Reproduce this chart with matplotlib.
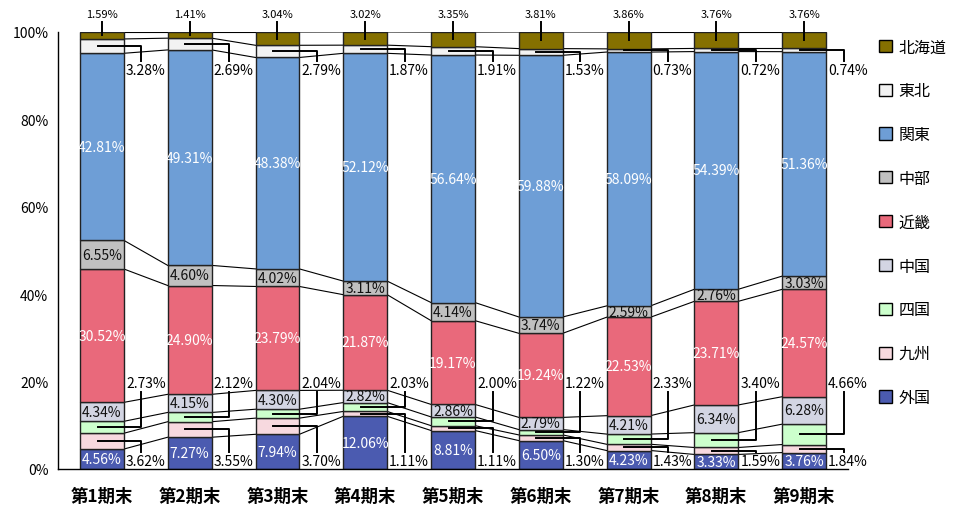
import matplotlib
matplotlib.use("Agg")
import matplotlib.pyplot as plt
import numpy as np
from matplotlib.patches import Patch

plt.rcParams['font.family'] = ['Noto Sans CJK JP', 'DejaVu Sans']

periods = ['第1期末', '第2期末', '第3期末', '第4期末', '第5期末', '第6期末', '第7期末', '第8期末', '第9期末']
regions = ['外国', '九州', '四国', '中国', '近畿', '中部', '関東', '東北', '北海道']

gaikoku  = [4.56, 7.27, 7.94, 12.06, 8.81, 6.50, 4.23, 3.33, 3.76]
kyushu   = [3.62, 3.55, 3.70, 1.11, 1.11, 1.30, 1.43, 1.59, 1.84]
shikoku  = [2.73, 2.12, 2.04, 2.03, 2.00, 1.22, 2.33, 3.40, 4.66]
chugoku  = [4.34, 4.15, 4.30, 2.82, 2.86, 2.79, 4.21, 6.34, 6.28]
kinki    = [30.52, 24.90, 23.79, 21.87, 19.17, 19.24, 22.53, 23.71, 24.57]
chubu    = [6.55, 4.60, 4.02, 3.11, 4.14, 3.74, 2.59, 2.76, 3.03]
kanto    = [42.81, 49.31, 48.38, 52.12, 56.64, 59.88, 58.09, 54.39, 51.36]
tohoku   = [3.28, 2.69, 2.79, 1.87, 1.91, 1.53, 0.73, 0.72, 0.74]
hokkaido = [1.59, 1.41, 3.04, 3.02, 3.35, 3.81, 3.86, 3.76, 3.76]

series = [gaikoku, kyushu, shikoku, chugoku, kinki, chubu, kanto, tohoku, hokkaido]
colors = ['#4B5BB0', '#F7D9DF', '#CCFFCC', '#D3D5E3', '#E9697B', '#C0C0C0', '#6E9ED6', '#F2F2F2', '#857000']
modes = ['in_w', 'out_low', 'out_high', 'in_k', 'in_w', 'in_k', 'in_w', 'out_top_r', 'out_top']

fig = plt.figure(figsize=(9.57, 5.06), dpi=100)
ax = fig.add_axes([58/957, 1-470/506, (848-58)/957, (470-33)/506])

x = np.arange(len(periods))
w = 0.5
fs = 10
bottom = np.zeros(len(periods))
tops = []
for vals, c, m in zip(series, colors, modes):
    vals = np.array(vals)
    ax.bar(x, vals, w, bottom=bottom, color=c, edgecolor='#222222', linewidth=1.0, zorder=2)
    mids = bottom + vals / 2
    for i in range(len(x)):
        txt = f"{vals[i]:.2f}%"
        if m == 'in_w':
            ax.text(x[i], mids[i], txt, ha='center', va='center', color='white', fontsize=fs, zorder=4)
        elif m == 'in_k':
            ax.text(x[i], mids[i], txt, ha='center', va='center', color='#111111', fontsize=fs, zorder=4)
        elif m == 'out_top':
            ax.plot([x[i], x[i]], [mids[i], 102.3], color='black', lw=1.4, zorder=5, clip_on=False)
            ax.text(x[i], 104.2, txt, ha='center', va='center', fontsize=8, clip_on=False)
        elif m == 'out_top_r':
            ax.plot([x[i]-0.05, x[i]+0.45, x[i]+0.45], [mids[i], mids[i], 93.4], color='black', lw=1.4, zorder=5)
            ax.text(x[i]+0.5, 91.4, txt, ha='center', va='center', fontsize=fs)
        elif m == 'out_high':
            ax.plot([x[i]-0.05, x[i]+0.45, x[i]+0.45], [mids[i], mids[i], 17.6], color='black', lw=1.4, zorder=5)
            ax.text(x[i]+0.5, 19.6, txt, ha='center', va='center', fontsize=fs)
        elif m == 'out_low':
            ax.plot([x[i]-0.05, x[i]+0.45, x[i]+0.45], [mids[i], mids[i], 3.8], color='black', lw=1.4, zorder=5)
            ax.text(x[i]+0.5, 1.8, txt, ha='center', va='center', fontsize=fs)
    bottom = bottom + vals
    tops.append(bottom.copy())

# series lines
for t in tops:
    for i in range(len(x) - 1):
        ax.plot([x[i] + w/2, x[i+1] - w/2], [t[i], t[i+1]], color='black', lw=0.8, zorder=1)

ax.set_xlim(-0.5, len(x) - 0.5)
ax.set_ylim(0, 100)
ax.set_yticks(np.arange(0, 101, 20))
ax.set_yticklabels([f"{v}%" for v in range(0, 101, 20)], fontsize=10)
ax.set_xticks(x)
ax.set_xticklabels(periods, fontsize=12.5, fontweight='bold')
ax.tick_params(axis='both', length=0)
ax.tick_params(axis='y', pad=7)
ax.tick_params(axis='x', pad=13)
for s in ['top', 'right']:
    ax.spines[s].set_visible(False)
ax.spines['left'].set_linewidth(1.0)
ax.spines['bottom'].set_linewidth(1.0)

handles = [Patch(facecolor=c, edgecolor='black', linewidth=1.0) for c in colors][::-1]
labels = regions[::-1]
fig.legend(handles, labels, loc='upper left', bbox_to_anchor=(865/957, 1-25/506), frameon=False,
           fontsize=11.5, handlelength=0.8, handleheight=0.8, handletextpad=0.4, labelspacing=1.68)

fig.savefig('out.png', dpi=100)
